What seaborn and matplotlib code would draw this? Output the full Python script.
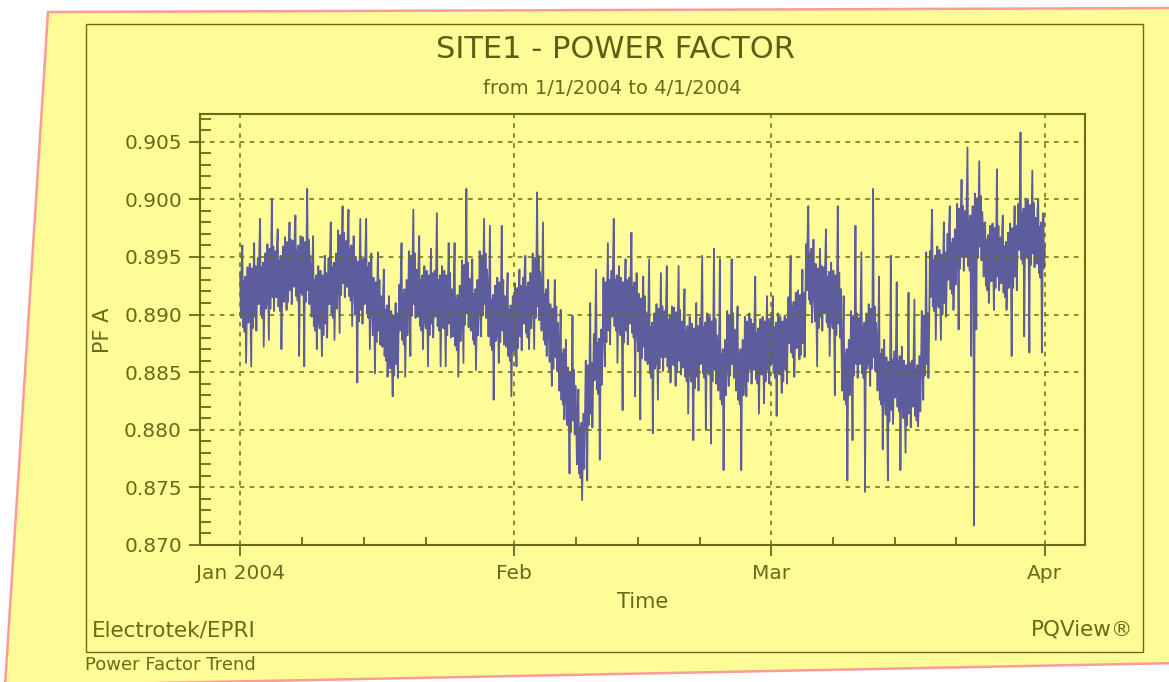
import numpy as np
import pandas as pd
import matplotlib
matplotlib.use('Agg')
import matplotlib.pyplot as plt
import matplotlib.dates as mdates
from matplotlib.patches import Polygon, Rectangle
from matplotlib.ticker import MultipleLocator, FormatStrFormatter
import seaborn as sns

# PF A readings every 2 hours (units of 0.0001), one row per day
jan_pf = [
    8937, 8897, 8943, 8960, 8889, 8929, 8885, 8933, 8858, 8901, 8941, 8893,
    8894, 8944, 8902, 8855, 8940, 8888, 8932, 8962, 8898, 8942, 8886, 8928,
    8949, 8909, 8955, 8983, 8901, 8941, 8897, 8945, 8872, 8913, 8953, 8905,
    8911, 8961, 8919, 8878, 8957, 8905, 8949, 9000, 8915, 8959, 8903, 8945,
    8955, 8915, 8961, 8974, 8907, 8947, 8903, 8951, 8870, 8919, 8959, 8911,
    8917, 8967, 8925, 8904, 8963, 8911, 8955, 8980, 8921, 8965, 8909, 8951,
    8964, 8924, 8970, 8986, 8916, 8956, 8912, 8960, 8864, 8928, 8968, 8920,
    8917, 8967, 8925, 8855, 8963, 8911, 8955, 9009, 8921, 8965, 8909, 8951,
    8938, 8898, 8944, 8968, 8890, 8930, 8886, 8934, 8870, 8902, 8942, 8894,
    8888, 8938, 8896, 8864, 8934, 8882, 8926, 8951, 8892, 8936, 8880, 8922,
    8949, 8909, 8955, 8980, 8901, 8941, 8897, 8945, 8878, 8913, 8953, 8905,
    8923, 8973, 8931, 8884, 8969, 8917, 8961, 8994, 8927, 8971, 8915, 8957,
    8964, 8924, 8970, 8991, 8916, 8956, 8912, 8960, 8890, 8928, 8968, 8920,
    8900, 8950, 8908, 8841, 8946, 8894, 8938, 8983, 8904, 8948, 8892, 8934,
    8949, 8909, 8955, 8983, 8901, 8941, 8897, 8945, 8870, 8913, 8953, 8905,
    8882, 8932, 8890, 8849, 8928, 8876, 8920, 8954, 8886, 8930, 8874, 8916,
    8912, 8872, 8918, 8939, 8864, 8904, 8860, 8908, 8846, 8876, 8916, 8868,
    8853, 8903, 8861, 8829, 8899, 8847, 8891, 8910, 8857, 8901, 8845, 8887,
    8926, 8886, 8932, 8962, 8878, 8918, 8874, 8922, 8846, 8890, 8930, 8882,
    8905, 8955, 8913, 8864, 8951, 8899, 8943, 8991, 8909, 8953, 8897, 8939,
    8938, 8898, 8944, 8968, 8890, 8930, 8886, 8934, 8870, 8902, 8942, 8894,
    8888, 8938, 8896, 8855, 8934, 8882, 8926, 8957, 8892, 8936, 8880, 8922,
    8938, 8898, 8944, 8988, 8890, 8930, 8886, 8934, 8855, 8902, 8942, 8894,
    8888, 8938, 8896, 8855, 8934, 8882, 8926, 8962, 8892, 8936, 8880, 8922,
    8921, 8881, 8927, 8962, 8873, 8913, 8869, 8917, 8846, 8885, 8925, 8877,
    8897, 8947, 8905, 8858, 8943, 8891, 8935, 9009, 8901, 8945, 8889, 8931,
    8926, 8886, 8932, 8948, 8878, 8918, 8874, 8922, 8852, 8890, 8930, 8882,
    8905, 8955, 8913, 8881, 8951, 8899, 8943, 8983, 8909, 8953, 8897, 8939,
    8921, 8881, 8927, 8977, 8873, 8913, 8869, 8917, 8826, 8885, 8925, 8877,
    8882, 8932, 8890, 8858, 8928, 8876, 8920, 8977, 8886, 8930, 8874, 8916,
    8912, 8872, 8918, 8936, 8864, 8904, 8860, 8908, 8829, 8876, 8916, 8868,
]
feb_pf = [
    8877, 8927, 8885, 8855, 8923, 8871, 8915, 8939, 8881, 8925, 8869, 8911,
    8932, 8892, 8938, 8951, 8884, 8924, 8880, 8928, 8870, 8896, 8936, 8888,
    8903, 8953, 8911, 8870, 8949, 8897, 8941, 9006, 8907, 8951, 8895, 8937,
    8926, 8886, 8932, 8980, 8878, 8918, 8874, 8922, 8864, 8890, 8930, 8882,
    8859, 8909, 8867, 8838, 8905, 8853, 8897, 8930, 8863, 8907, 8851, 8893,
    8874, 8834, 8880, 8904, 8826, 8866, 8822, 8870, 8809, 8838, 8878, 8830,
    8804, 8854, 8812, 8762, 8850, 8798, 8842, 8899, 8808, 8852, 8796, 8838,
    8810, 8770, 8816, 8835, 8762, 8802, 8758, 8806, 8739, 8774, 8814, 8766,
    8810, 8860, 8818, 8756, 8856, 8804, 8848, 8910, 8814, 8858, 8802, 8844,
    8883, 8843, 8889, 8939, 8835, 8875, 8831, 8879, 8774, 8847, 8887, 8839,
    8882, 8932, 8890, 8855, 8928, 8876, 8920, 8962, 8886, 8930, 8874, 8916,
    8938, 8898, 8944, 8983, 8890, 8930, 8886, 8934, 8858, 8902, 8942, 8894,
    8882, 8932, 8890, 8817, 8928, 8876, 8920, 8948, 8886, 8930, 8874, 8916,
    8932, 8892, 8938, 8971, 8884, 8924, 8880, 8928, 8829, 8896, 8936, 8888,
    8868, 8918, 8876, 8809, 8914, 8862, 8906, 8933, 8872, 8916, 8860, 8902,
    8897, 8857, 8903, 8948, 8849, 8889, 8845, 8893, 8797, 8861, 8901, 8853,
    8859, 8909, 8867, 8826, 8905, 8853, 8897, 8936, 8863, 8907, 8851, 8893,
    8903, 8863, 8909, 8942, 8855, 8895, 8851, 8899, 8841, 8867, 8907, 8859,
    8856, 8906, 8864, 8838, 8902, 8850, 8894, 8942, 8860, 8904, 8848, 8890,
    8894, 8854, 8900, 8922, 8846, 8886, 8842, 8890, 8814, 8858, 8898, 8850,
    8842, 8892, 8850, 8791, 8888, 8836, 8880, 8910, 8846, 8890, 8834, 8876,
    8897, 8857, 8903, 8951, 8849, 8889, 8845, 8893, 8800, 8861, 8901, 8853,
    8848, 8898, 8856, 8788, 8894, 8842, 8886, 8957, 8852, 8896, 8840, 8882,
    8874, 8834, 8880, 8948, 8826, 8866, 8822, 8870, 8765, 8838, 8878, 8830,
    8853, 8903, 8861, 8838, 8899, 8847, 8891, 8948, 8857, 8901, 8845, 8887,
    8874, 8834, 8880, 8907, 8826, 8866, 8822, 8870, 8765, 8838, 8878, 8830,
    8848, 8898, 8856, 8829, 8894, 8842, 8886, 8901, 8852, 8896, 8840, 8882,
    8892, 8852, 8898, 8933, 8844, 8884, 8840, 8888, 8814, 8856, 8896, 8848,
    8848, 8898, 8856, 8823, 8894, 8842, 8886, 8916, 8852, 8896, 8840, 8882,
]
mar_pf = [
    8897, 8857, 8903, 8916, 8849, 8889, 8845, 8893, 8812, 8861, 8901, 8853,
    8848, 8898, 8856, 8832, 8894, 8842, 8886, 8899, 8852, 8896, 8840, 8882,
    8915, 8875, 8921, 8951, 8867, 8907, 8863, 8911, 8846, 8879, 8919, 8871,
    8871, 8921, 8879, 8861, 8917, 8865, 8909, 8939, 8875, 8919, 8863, 8905,
    8961, 8921, 8967, 8994, 8913, 8953, 8909, 8957, 8893, 8925, 8965, 8917,
    8894, 8944, 8902, 8855, 8940, 8888, 8932, 8957, 8898, 8942, 8886, 8928,
    8941, 8901, 8947, 8974, 8893, 8933, 8889, 8937, 8864, 8905, 8945, 8897,
    8888, 8938, 8896, 8830, 8934, 8882, 8926, 8994, 8892, 8936, 8880, 8922,
    8874, 8834, 8880, 8916, 8826, 8866, 8822, 8870, 8756, 8838, 8878, 8830,
    8853, 8903, 8861, 8791, 8899, 8847, 8891, 8977, 8857, 8901, 8845, 8887,
    8897, 8857, 8903, 8954, 8849, 8889, 8845, 8893, 8746, 8861, 8901, 8853,
    8859, 8909, 8867, 8838, 8905, 8853, 8897, 9009, 8863, 8907, 8851, 8893,
    8874, 8834, 8880, 8933, 8826, 8866, 8822, 8870, 8783, 8838, 8878, 8830,
    8813, 8863, 8821, 8756, 8859, 8807, 8851, 8951, 8817, 8861, 8805, 8847,
    8868, 8828, 8874, 8928, 8820, 8860, 8816, 8864, 8765, 8832, 8872, 8824,
    8810, 8860, 8818, 8780, 8856, 8804, 8848, 8919, 8814, 8858, 8802, 8844,
    8860, 8820, 8866, 8913, 8812, 8852, 8808, 8856, 8803, 8824, 8864, 8816,
    8853, 8903, 8861, 8826, 8899, 8847, 8891, 8954, 8857, 8901, 8845, 8887,
    8955, 8915, 8961, 8991, 8907, 8947, 8903, 8951, 8878, 8919, 8959, 8911,
    8906, 8956, 8914, 8878, 8952, 8900, 8944, 8980, 8910, 8954, 8898, 8940,
    8970, 8930, 8976, 8994, 8922, 8962, 8918, 8966, 8904, 8934, 8974, 8926,
    8946, 8996, 8954, 8887, 8992, 8940, 8984, 9017, 8950, 8994, 8938, 8980,
    8990, 8950, 8996, 9045, 8942, 8982, 8938, 8986, 8864, 8954, 8994, 8946,
    8717, 9005, 8963, 8887, 9001, 8949, 8993, 9033, 8959, 9003, 8947, 8989,
    8973, 8933, 8979, 8980, 8925, 8965, 8921, 8969, 8910, 8937, 8977, 8929,
    8929, 8979, 8937, 8904, 8975, 8923, 8967, 9026, 8933, 8977, 8921, 8963,
    8967, 8927, 8973, 8986, 8919, 8959, 8915, 8963, 8904, 8931, 8971, 8923,
    8929, 8979, 8937, 8864, 8975, 8923, 8967, 8994, 8933, 8977, 8921, 8963,
    8996, 8956, 9002, 9058, 8948, 8988, 8944, 8992, 8881, 8960, 9000, 8952,
    8949, 8999, 8957, 8867, 8995, 8943, 8987, 9025, 8953, 8997, 8941, 8983,
    8984, 8944, 8990, 9000, 8936, 8976, 8932, 8980, 8867, 8948, 8988, 8940,
]
apr_pf = [8960]

month_starts = ['2004-01-01', '2004-02-01', '2004-03-01', '2004-04-01']
month_labels = ['Jan 2004', 'Feb', 'Mar', 'Apr']

pf = np.array(jan_pf + feb_pf + mar_pf + apr_pf) / 10000.0
times = pd.date_range('2004-01-01', periods=len(pf), freq='2h')
df = pd.DataFrame({'Time': times, 'PF A': pf})

yellow = '#fefc96'
olive = '#6a6a18'
line_col = '#5d5d9d'
W, H = 1169, 682

sns.set_theme(style='ticks')
plt.rcParams['font.family'] = ['DejaVu Sans']

fig = plt.figure(figsize=(W / 100, H / 100), dpi=100)
fig.patch.set_facecolor('white')

# tilted note-paper background
pts = [(48, 12), (1180, 8), (1180, 663), (5, 686)]
fig.patches.append(Polygon([(x / W, 1 - y / H) for x, y in pts], closed=True,
                           transform=fig.transFigure, facecolor=yellow,
                           edgecolor='#ff9a9a', lw=1.8, zorder=-2))
fig.patches.append(Rectangle((86 / W, 1 - 652 / H), (1143 - 86) / W, (652 - 24) / H,
                             transform=fig.transFigure, fill=False,
                             edgecolor=olive, lw=1.0, zorder=-1))

ax = fig.add_axes([200 / W, 1 - 545 / H, (1085 - 200) / W, (545 - 114) / H])
ax.set_facecolor('none')

sns.lineplot(data=df, x='Time', y='PF A', ax=ax, color=line_col, lw=1.3,
             estimator=None, zorder=2)

ax.set_ylim(0.870, 0.9074)
ax.set_xlim(pd.Timestamp('2003-12-27 11:00'), pd.Timestamp('2004-04-05 13:00'))

ax.yaxis.set_major_locator(MultipleLocator(0.005))
ax.yaxis.set_minor_locator(MultipleLocator(0.001))
ax.yaxis.set_major_formatter(FormatStrFormatter('%.3f'))
ax.set_xticks(pd.to_datetime(month_starts), month_labels)
ax.xaxis.set_minor_locator(mdates.DayLocator(bymonthday=[8, 15, 22]))

ax.tick_params(which='major', direction='out', length=8, width=1.3, color=olive,
               labelcolor=olive, labelsize=14.5)
ax.tick_params(axis='y', which='major', pad=5)
ax.tick_params(axis='x', which='major', pad=6)
ax.tick_params(axis='y', which='minor', direction='in', length=8, width=1.3, color=olive)
ax.tick_params(axis='x', which='minor', direction='in', length=6, width=1.3, color=olive)

ax.set_axisbelow(False)
ax.grid(True, which='major', color=olive, lw=1.1, linestyle=(0, (3, 3.5)))
for s in ax.spines.values():
    s.set_color(olive)
    s.set_linewidth(1.5)
ax.set_xlabel('')
ax.set_ylabel('')

fig.text(615 / W, 1 - 50 / H, 'SITE1 - POWER FACTOR', ha='center', va='center',
         fontsize=22, color='#5e5e14')
fig.text(612 / W, 1 - 88 / H, 'from 1/1/2004 to 4/1/2004', ha='center', va='center',
         fontsize=14, color=olive)
fig.text(103 / W, 1 - 330 / H, 'PF A', rotation=90, ha='center', va='center',
         fontsize=15, color=olive)
fig.text(643 / W, 1 - 602 / H, 'Time', ha='center', va='center',
         fontsize=15, color=olive)
fig.text(92 / W, 1 - 630 / H, 'Electrotek/EPRI', ha='left', va='center',
         fontsize=15.5, color=olive)
fig.text(1133 / W, 1 - 630 / H, 'PQView®', ha='right', va='center',
         fontsize=15.5, color=olive)
fig.text(85 / W, 1 - 665 / H, 'Power Factor Trend', ha='left', va='center',
         fontsize=13, color=olive)

fig.savefig('out.png', dpi=100)
